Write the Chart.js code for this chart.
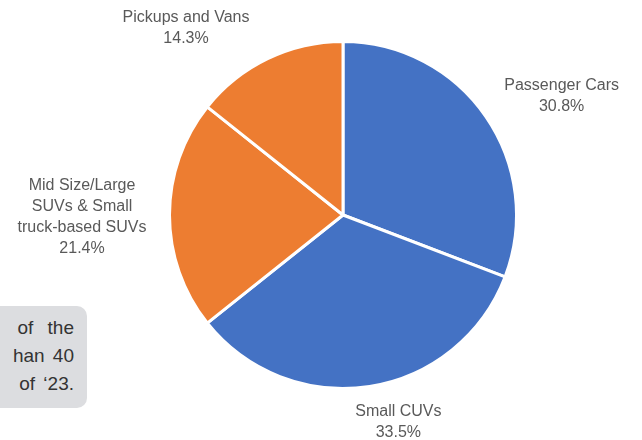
<!DOCTYPE html>
<html>
<head>
<meta charset="utf-8">
<script src="https://cdn.jsdelivr.net/npm/chart.js@4.4.1/dist/chart.umd.min.js"></script>
<style>
  html, body { margin: 0; padding: 0; background: #fff; }
  #wrap { position: relative; width: 642px; height: 440px; overflow: hidden; }
  #chart { position: absolute; left: 0; top: 0; }
  .note {
    position: absolute; left: -20px; top: 306px; width: 107px; height: 102px;
    background: #dcdde0; border-radius: 10px; box-sizing: border-box;
    padding: 8px 13px 0 0; font-family: "Liberation Sans", Arial, sans-serif;
    font-size: 19px; line-height: 28px; color: #333; text-align: right;
    word-spacing: 3px; white-space: nowrap;
  }
  .note .wide { word-spacing: 9px; }
</style>
</head>
<body>
<div id="wrap">
  <canvas id="chart" width="642" height="440"></canvas>
  <div class="note"><div class="wide">of the</div><div>han 40</div><div>of ‘23.</div></div>
</div>
<script>
// Vehicle mix shares (%)
const categories = [
  ['Passenger Cars'],
  ['Small CUVs'],
  ['Mid Size/Large', 'SUVs & Small', 'truck-based SUVs'],
  ['Pickups and Vans']
];
const shares = [30.8, 33.5, 21.4, 14.3];
const sliceColors = ['#4472c4', '#4472c4', '#ed7d31', '#ed7d31'];

// label nudges (px) to mimic the spreadsheet's best-fit placement
const labelNudge = [[17, -1], [20, 1], [-9, 2], [-48, 1]];

const outsideLabels = {
  id: 'outsideLabels',
  afterDatasetsDraw(chart) {
    const ctx = chart.ctx;
    const meta = chart.getDatasetMeta(0);
    const lineH = 21;
    ctx.save();
    ctx.font = '16px "Liberation Sans", Arial, sans-serif';
    ctx.fillStyle = '#595959';
    ctx.textAlign = 'center';
    ctx.textBaseline = 'middle';
    meta.data.forEach((arc, i) => {
      const p = arc.getProps(['x', 'y', 'startAngle', 'endAngle', 'outerRadius'], true);
      const mid = (p.startAngle + p.endAngle) / 2;
      const dx = Math.cos(mid), dy = Math.sin(mid);
      const lines = categories[i].concat([shares[i].toFixed(1) + '%']);
      const w = Math.max(...lines.map(l => ctx.measureText(l).width));
      const h = lines.length * lineH;
      const gap = 14;
      let cx = p.x + dx * (p.outerRadius + gap) + dx * w / 2;
      let cy = p.y + dy * (p.outerRadius + gap) + dy * h / 2;
      cx += labelNudge[i][0];
      cy += labelNudge[i][1];
      const top = cy - h / 2 + lineH / 2;
      lines.forEach((l, k) => ctx.fillText(l, cx, top + k * lineH));
    });
    ctx.restore();
  }
};

new Chart(document.getElementById('chart'), {
  type: 'pie',
  data: {
    labels: categories.map(c => c.join(' ')),
    datasets: [{
      data: shares,
      backgroundColor: sliceColors,
      borderColor: '#ffffff',
      borderWidth: 3
    }]
  },
  options: {
    responsive: false,
    animation: false,
    layout: { padding: { top: 40, bottom: 50, left: 44, right: 0 } },
    plugins: {
      legend: { display: false },
      tooltip: { enabled: false }
    }
  },
  plugins: [outsideLabels]
});
</script>
</body>
</html>
